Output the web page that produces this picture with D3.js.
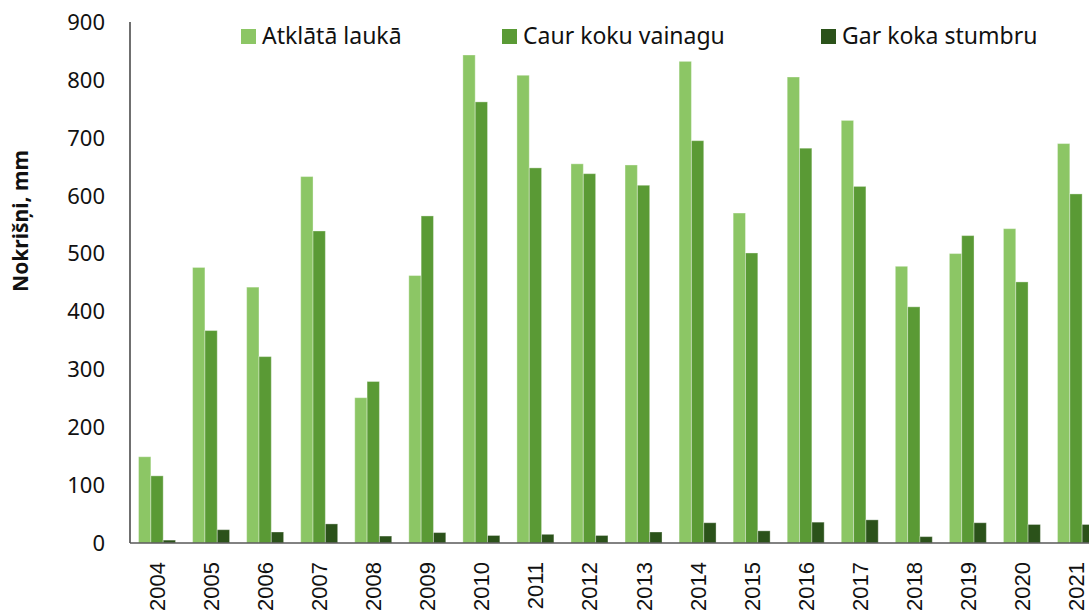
<!DOCTYPE html>
<html>
<head>
<meta charset="utf-8">
<title>Nokrišņi</title>
<script src="https://d3js.org/d3.v7.min.js"></script>
<style>
  body { margin: 0; background: #fff; }
  svg { display: block; overflow: hidden; }
  .tick-y { font-family: "Noto Sans", sans-serif; font-size: 22px; fill: #111; }
  .tick-x { font-family: "Liberation Sans", Arial, sans-serif; font-size: 22px; fill: #111; }
  .legend text { font-family: "Noto Sans", sans-serif; font-size: 23px; fill: #111; }
  .ytitle { font-family: "Noto Sans", sans-serif; font-size: 21px; font-weight: bold; fill: #111; }
</style>
</head>
<body>
<script>
//Categories (years)
var years = ["2004", "2005", "2006", "2007", "2008", "2009", "2010", "2011", "2012",
             "2013", "2014", "2015", "2016", "2017", "2018", "2019", "2020", "2021"];

//Series names
var seriesNames = ["Atklātā laukā", "Caur koku vainagu", "Gar koka stumbru"];

//Series values, mm
var atklata = [149, 476, 442, 633, 251, 462, 843, 808, 655, 653, 832, 570, 805, 730, 478, 500, 543, 690];
var caur    = [116, 367, 322, 539, 279, 565, 762, 648, 638, 618, 695, 501, 682, 616, 408, 531, 451, 603];
var gar     = [5, 23, 19, 33, 12, 18, 13, 15, 13, 19, 35, 21, 36, 40, 11, 35, 32, 32];

//Y tick values
var yTicks = [0, 100, 200, 300, 400, 500, 600, 700, 800, 900];

var colors = ["#8cc665", "#5a9a35", "#2b521a"];

(function() {
var svgwidth = 1089,
    svgheight = 614;

var svg = d3.select("body").append("svg")
    .attr("width", svgwidth)
    .attr("height", svgheight);

//Plot area (extends past the right edge, like the original)
var pLeft = 130, pRight = 1103, pTop = 22, pBottom = 543;

var x = d3.scaleBand().domain(years).range([pLeft, pRight])
    .paddingInner(0.316).paddingOuter(0.158);
var xs = d3.scaleBand().domain(seriesNames).range([0, x.bandwidth()]);
var y = d3.scaleLinear().domain([0, 900]).range([pBottom, pTop]);

//Build rows for the bars
var rows = [];
years.forEach(function(yr, i) {
  [atklata, caur, gar].forEach(function(arr, s) {
    rows.push({year: yr, series: seriesNames[s], s: s, value: arr[i]});
  });
});

//Bars
svg.append("g").selectAll("rect")
  .data(rows)
  .enter().append("rect")
    .attr("x", function(d) { return x(d.year) + xs(d.series); })
    .attr("y", function(d) { return y(d.value); })
    .attr("width", xs.bandwidth())
    .attr("height", function(d) { return y(0) - y(d.value); })
    .attr("fill", function(d) { return colors[d.s]; })
    .attr("stroke", "#ffffff")
    .attr("stroke-opacity", 0.35)
    .attr("stroke-width", 1);

//Y axis line and labels
svg.append("line")
    .attr("x1", pLeft).attr("x2", pLeft)
    .attr("y1", y(900)).attr("y2", y(0))
    .attr("stroke", "#222").attr("stroke-width", 1.3);

svg.append("g").selectAll("text")
  .data(yTicks)
  .enter().append("text")
    .attr("class", "tick-y")
    .attr("x", 105)
    .attr("y", function(d) { return y(d); })
    .attr("dy", "0.36em")
    .attr("text-anchor", "end")
    .text(function(d) { return d; });

//X axis line and labels
svg.append("line")
    .attr("x1", pLeft).attr("x2", svgwidth)
    .attr("y1", y(0)).attr("y2", y(0))
    .attr("stroke", "#595959").attr("stroke-width", 1.3);

svg.append("g").selectAll("text")
  .data(years)
  .enter().append("text")
    .attr("class", "tick-x")
    .attr("transform", function(d) {
      return "translate(" + (x(d) + x.bandwidth() / 2 + 8) + ",562) rotate(-90)";
    })
    .attr("text-anchor", "end")
    .text(function(d) { return d; });

//Y title
svg.append("text")
    .attr("class", "ytitle")
    .attr("transform", "translate(28,221) rotate(-90)")
    .attr("text-anchor", "middle")
    .text("Nokrišņi, mm");

//Legend
var legendX = [241, 502, 821];
var legend = svg.append("g").attr("class", "legend")
  .selectAll("g")
  .data(seriesNames)
  .enter().append("g")
    .attr("transform", function(d, i) { return "translate(" + legendX[i] + ",29)"; });

legend.append("rect")
    .attr("width", 15).attr("height", 15)
    .attr("fill", function(d, i) { return colors[i]; });

legend.append("text")
    .attr("x", 21)
    .attr("y", 15)
    .text(function(d) { return d; });
})();
</script>
</body>
</html>
